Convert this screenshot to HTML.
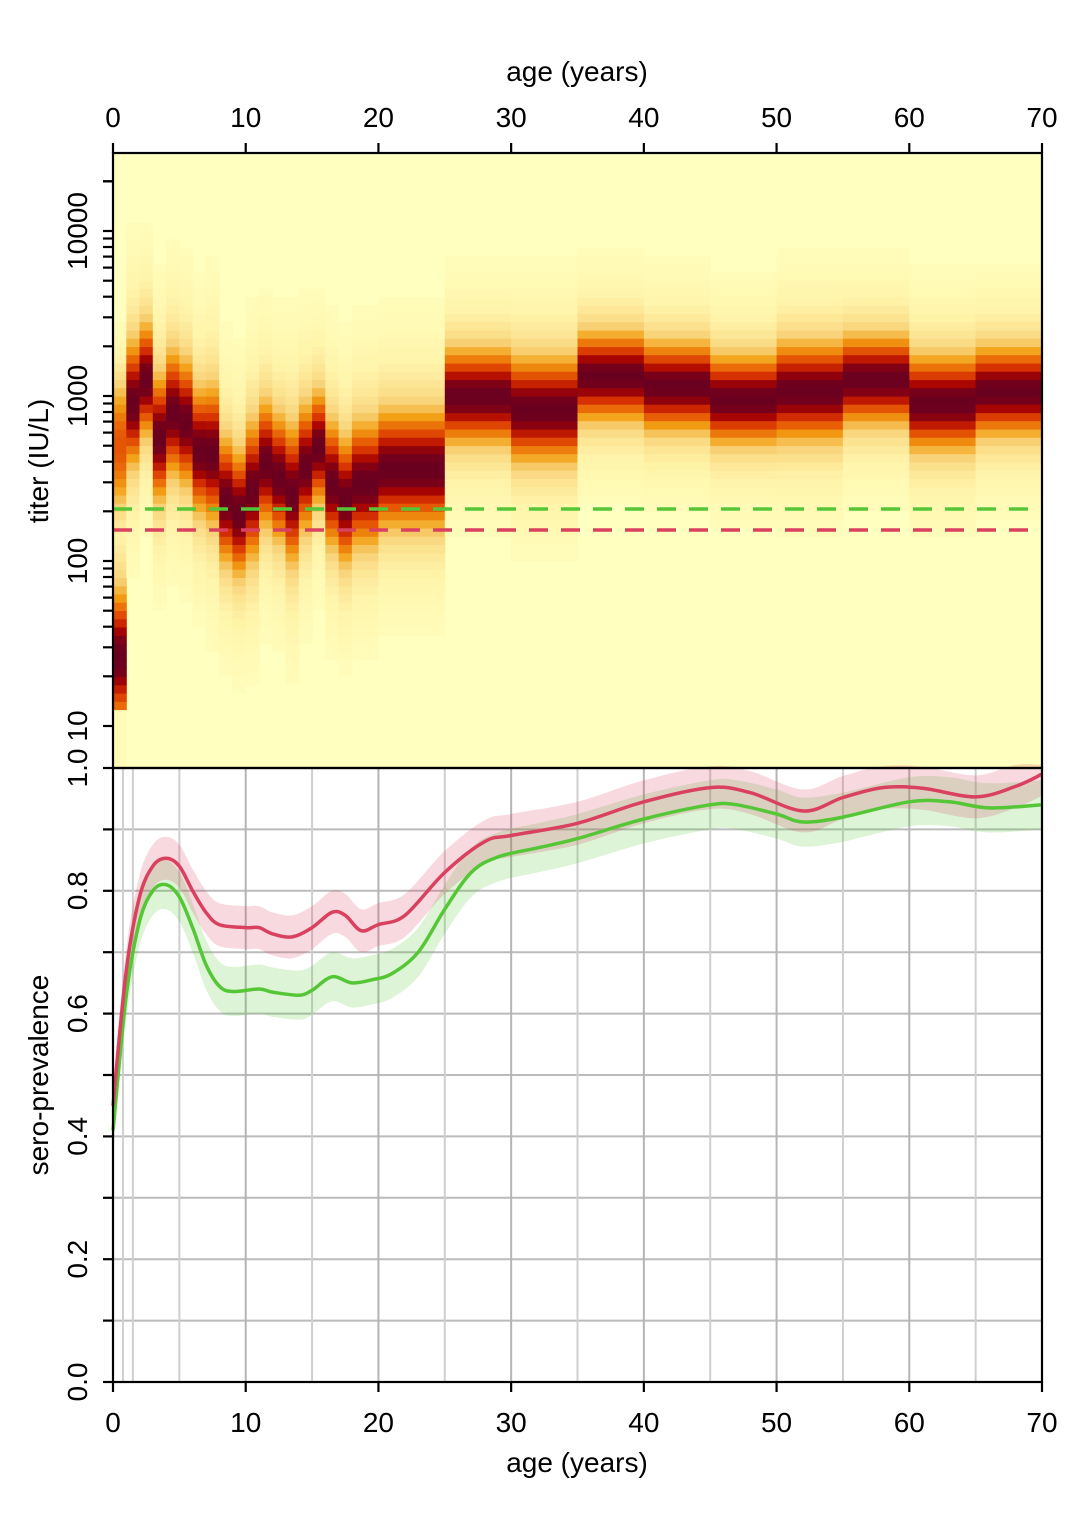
<!DOCTYPE html>
<html><head><meta charset="utf-8"><style>
html,body{margin:0;padding:0;background:#fff;}
svg{display:block;font-family:"Liberation Sans",Arial,sans-serif;}
</style></head><body>
<svg id="s" width="1075" height="1536" viewBox="0 0 1075 1536" xmlns="http://www.w3.org/2000/svg"></svg>
<script>
const S=document.getElementById('s');let h='';
const X0=113,X1=1042,px=(X1-X0)/70;
const ax=a=>X0+a*px;
const ly=l=>396-(l-3)*165;
const T0=153,T1=768,B1=1382;
const by=v=>B1-v*(B1-T1);
h+=`<rect x="${X0}" y="${T0}" width="${X1-X0}" height="${T1-T0}" fill="#FFFFBF"/>`;
const stops=[[0,[255,255,191]],[0.12,[255,244,170]],[0.28,[248,210,120]],[0.42,[242,160,20]],[0.57,[232,95,5]],[0.7,[215,50,0]],[0.82,[170,5,0]],[0.93,[120,0,25]],[1,[105,0,32]]];
function col(v){for(let i=1;i<stops.length;i++){if(v<=stops[i][0]){const a=stops[i-1],b=stops[i],t=(v-a[0])/(b[0]-a[0]);return 'rgb('+a[1].map((c,k)=>Math.round(c+(b[1][k]-c)*t)).join(',')+')';}}return 'rgb(105,0,32)';}
const cols=[[0,1,1.42,0.22,2.7,0.6],[1,2,2.96,0.2],[2,3,3.1,0.18],[3,4,2.75,0.2],[4,5,2.9,0.2],[5,6,2.84,0.2],[6,7,2.67,0.2],[7,8,2.65,0.22],[8,9,2.37,0.2],[9,10,2.29,0.2],[10,11,2.43,0.22],[11,12,2.59,0.2],[12,13,2.51,0.2],[13,14,2.41,0.22],[14,15,2.57,0.2],[15,16,2.69,0.18],[16,17,2.47,0.2],[17,18,2.37,0.2],[18,19,2.47,0.2],[19,20,2.47,0.2],
[20,25,2.56,0.19],[25,30,3.0,0.155],[30,35,2.92,0.17],[35,40,3.12,0.145],[40,45,3.06,0.145],[45,50,2.98,0.145],[50,55,3.03,0.16],[55,60,3.1,0.145],[60,65,2.96,0.155],[65,70,3.03,0.145]];
const bin=0.05;
for(const c of cols){const x=ax(c[0]),w=ax(c[1])-x;
 for(let l=0.7;l<4.55;l+=bin){const m=l+bin/2;
  let d=0.7*Math.exp(-0.5*((m-c[2])/c[3])**2)+0.3*Math.exp(-0.5*((m-c[2])/(c[3]*2.5))**2);
  if(c.length>4){d=Math.max(d,c[5]*Math.exp(-0.5*((m-c[4])/0.3)**2));if(m<1.08)d=0.04;}
  if(d<0.03)continue;const y1=ly(l+bin),y2=ly(l);
  const ya=Math.max(y1,T0),yb=Math.min(y2,T1);if(yb<=ya)continue;
  h+=`<rect x="${x.toFixed(1)}" y="${ya.toFixed(1)}" width="${(w+0.5).toFixed(1)}" height="${(yb-ya+0.5).toFixed(1)}" fill="${col(d)}"/>`;}}
h+=`<line x1="${X0}" x2="${X1}" y1="509" y2="509" stroke="#55C636" stroke-width="3.5" stroke-dasharray="19,13"/>`;
h+=`<line x1="${X0}" x2="${X1}" y1="530" y2="530" stroke="#D9415E" stroke-width="3.5" stroke-dasharray="19,13"/>`;
for(let v=0.1;v<1;v+=0.1)h+=`<line x1="${X0}" x2="${X1}" y1="${by(v)}" y2="${by(v)}" stroke="#bbb" stroke-width="2"/>`;
for(const a of [0.75,1.5,5,10,15,20,25,30,35,40,45,50,55,60,65])h+=`<line x1="${ax(a)}" x2="${ax(a)}" y1="${T1}" y2="${B1}" stroke="${a%10==0?'#b5b5b5':'#cfcfcf'}" stroke-width="2"/>`;
function spline(pts){let d=`M${ax(pts[0][0]).toFixed(1)},${by(pts[0][1]).toFixed(1)}`;const P=pts.map(p=>[ax(p[0]),by(p[1])]);
 for(let i=0;i<P.length-1;i++){const p0=P[Math.max(0,i-1)],p1=P[i],p2=P[i+1],p3=P[Math.min(P.length-1,i+2)];
 d+=` C${(p1[0]+(p2[0]-p0[0])/6).toFixed(1)},${(p1[1]+(p2[1]-p0[1])/6).toFixed(1)} ${(p2[0]-(p3[0]-p1[0])/6).toFixed(1)},${(p2[1]-(p3[1]-p1[1])/6).toFixed(1)} ${p2[0].toFixed(1)},${p2[1].toFixed(1)}`;}return d;}
const red=[[0,0.45],[1,0.67],[2,0.79],[3,0.84],[4,0.853],[5,0.84],[6,0.8],[7,0.765],[8,0.745],[10,0.74],[11,0.74],[12,0.73],[13.5,0.725],[15,0.74],[16.5,0.765],[17.5,0.76],[18.7,0.735],[20,0.745],[22,0.76],[25,0.83],[28,0.88],[30,0.89],[35,0.91],[40,0.945],[45,0.968],[48,0.96],[52,0.93],[55,0.952],[58,0.968],[61,0.967],[65,0.953],[68,0.97],[70,0.99]];
const grn=[[0,0.41],[1,0.63],[2,0.75],[3,0.8],[4,0.81],[5,0.79],[6,0.74],[7,0.68],[8,0.645],[9,0.636],[11,0.64],[12,0.635],[14,0.63],[15,0.638],[16.5,0.66],[18,0.65],[19.5,0.655],[21,0.665],[23,0.7],[25,0.77],[27,0.83],[29,0.855],[32,0.87],[35,0.885],[40,0.917],[45,0.94],[47,0.94],[50,0.925],[52,0.912],[55,0.92],[60,0.945],[63,0.945],[66,0.935],[70,0.94]];
function band(pts,w){const up=pts.map(p=>[p[0],Math.min(p[1]+w,1.005)]),dn=pts.map(p=>[p[0],p[1]-w]).reverse();
 return spline(up)+' L'+spline(dn).slice(1)+' Z';}
h+=`<path d="${band(grn,0.04)}" fill="rgba(85,198,54,0.2)"/>`;
h+=`<path d="${band(red,0.035)}" fill="rgba(217,65,94,0.2)"/>`;
h+=`<path d="${spline(grn)}" fill="none" stroke="#55C636" stroke-width="3.5"/>`;
h+=`<path d="${spline(red)}" fill="none" stroke="#D9415E" stroke-width="3.5"/>`;
h+=`<rect x="${X0}" y="${T0}" width="${X1-X0}" height="${T1-T0}" fill="none" stroke="#000" stroke-width="2.2"/>`;
h+=`<rect x="${X0}" y="${T1}" width="${X1-X0}" height="${B1-T1}" fill="none" stroke="#000" stroke-width="2.2"/>`;
const FS=28;
for(let a=0;a<=70;a+=10){const x=ax(a);
 h+=`<line x1="${x}" x2="${x}" y1="${T0}" y2="${T0-10}" stroke="#000" stroke-width="2.2"/><text x="${x}" y="127" font-size="${FS}" text-anchor="middle">${a}</text>`;
 h+=`<line x1="${x}" x2="${x}" y1="${B1}" y2="${B1+10}" stroke="#000" stroke-width="2.2"/><text x="${x}" y="1432" font-size="${FS}" text-anchor="middle">${a}</text>`;}
h+=`<text x="577" y="81" font-size="${FS}" text-anchor="middle">age (years)</text><text x="577" y="1472" font-size="${FS}" text-anchor="middle">age (years)</text>`;
for(let d=1;d<=4;d++)for(let k=1;k<=9;k++){const l=d+Math.log10(k);if(l>4.32)continue;const y=ly(l);
 h+=`<line x1="${X0}" x2="${X0-10}" y1="${y.toFixed(1)}" y2="${y.toFixed(1)}" stroke="#000" stroke-width="2.2"/>`;}
h+=`<line x1="${X0}" x2="${X0-10}" y1="${ly(4.301)}" y2="${ly(4.301)}" stroke="#000" stroke-width="2.2"/>`;
for(const [t,l] of [[10,1],[100,2],[1000,3],[10000,4]])h+=`<text transform="translate(87,${ly(l)}) rotate(-90)" font-size="${FS}" text-anchor="middle">${t}</text>`;
h+=`<text transform="translate(48,461) rotate(-90)" font-size="${FS}" text-anchor="middle">titer (IU/L)</text>`;
for(let v=0;v<=1.001;v+=0.1){const y=by(v);h+=`<line x1="${X0}" x2="${X0-10}" y1="${y}" y2="${y}" stroke="#000" stroke-width="2.2"/>`;}
for(const v of [0,0.2,0.4,0.6,0.8,1])h+=`<text transform="translate(87,${by(v)}) rotate(-90)" font-size="${FS}" text-anchor="middle">${v.toFixed(1)}</text>`;
h+=`<text transform="translate(48,1075) rotate(-90)" font-size="${FS}" text-anchor="middle">sero-prevalence</text>`;
S.innerHTML=h;
</script>
</body></html>
